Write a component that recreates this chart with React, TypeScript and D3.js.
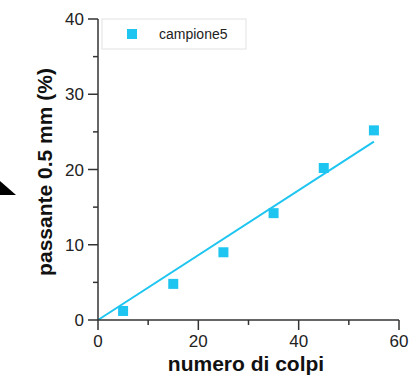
import React from "react";
import * as d3 from "d3";

const colpi = [5, 15, 25, 35, 45, 55];
const passante = [1.2, 4.8, 9.0, 14.2, 20.2, 25.2];
const fitX = [0, 55];
const fitY = [0, 23.7];
const xTicks = [0, 20, 40, 60];
const yTicks = [0, 10, 20, 30, 40];
const xMinor = [10, 30, 50];
const yMinor = [5, 15, 25, 35];
const seriesName = "campione5";

const W = 416;
const H = 376;
const cyan = "#1ec5f0";
const font = "Liberation Sans, Arial, Helvetica, sans-serif";

export default function App() {
  const x = d3.scaleLinear().domain([0, 60]).range([98, 399]);
  const y = d3.scaleLinear().domain([0, 40]).range([320, 19]);

  const line = d3
    .line<number>()
    .x((d) => x(d))
    .y((d, i) => y(fitY[i]));

  const axisColor = "#333";

  return (
    <svg
      width={W}
      height={H}
      style={{ position: "absolute", left: 0, top: 0, background: "#fff" }}
    >
      {/* arrow head at left edge */}
      <polygon points="0,181 16,195 0,195" fill="#000" />

      {/* legend */}
      <rect x={102} y={19} width={144} height={30} fill="#fff" stroke="#e2e2e2" />
      <rect x={127} y={29} width={10} height={10} fill={cyan} />
      <text x={159} y={39} fontSize={14} fontFamily={font} fill="#222">
        {seriesName}
      </text>

      {/* fit line */}
      <path d={line(fitX) ?? ""} fill="none" stroke={cyan} strokeWidth={2} />

      {/* points */}
      {colpi.map((c, i) => (
        <rect
          key={c}
          x={x(c) - 5}
          y={y(passante[i]) - 5}
          width={10}
          height={10}
          fill={cyan}
        />
      ))}

      {/* x axis */}
      <line x1={x(0)} x2={x(60)} y1={y(0)} y2={y(0)} stroke={axisColor} strokeWidth={1.5} />
      {xTicks.map((t) => (
        <g key={t}>
          <line x1={x(t)} x2={x(t)} y1={y(0)} y2={y(0) + 10} stroke={axisColor} strokeWidth={1.5} />
          <text
            x={x(t)}
            y={347}
            textAnchor="middle"
            fontSize={17}
            fontFamily={font}
            fill="#222"
          >
            {t}
          </text>
        </g>
      ))}
      {xMinor.map((t) => (
        <line key={t} x1={x(t)} x2={x(t)} y1={y(0)} y2={y(0) + 5} stroke={axisColor} strokeWidth={1.5} />
      ))}

      {/* y axis */}
      <line x1={x(0)} x2={x(0)} y1={y(0)} y2={y(40)} stroke={axisColor} strokeWidth={1.5} />
      {yTicks.map((t) => (
        <g key={t}>
          <line x1={x(0) - 10} x2={x(0)} y1={y(t)} y2={y(t)} stroke={axisColor} strokeWidth={1.5} />
          <text
            x={84}
            y={y(t) + 6}
            textAnchor="end"
            fontSize={17}
            fontFamily={font}
            fill="#222"
          >
            {t}
          </text>
        </g>
      ))}
      {yMinor.map((t) => (
        <line key={t} x1={x(0) - 5} x2={x(0)} y1={y(t)} y2={y(t)} stroke={axisColor} strokeWidth={1.5} />
      ))}

      {/* axis titles */}
      <text
        x={246}
        y={371}
        textAnchor="middle"
        fontSize={21}
        fontWeight="bold"
        fontFamily={font}
        fill="#111"
      >
        numero di colpi
      </text>
      <text
        transform={`translate(52, 172) rotate(-90)`}
        textAnchor="middle"
        fontSize={21}
        fontWeight="bold"
        fontFamily={font}
        fill="#111"
      >
        passante 0.5 mm (%)
      </text>
    </svg>
  );
}
